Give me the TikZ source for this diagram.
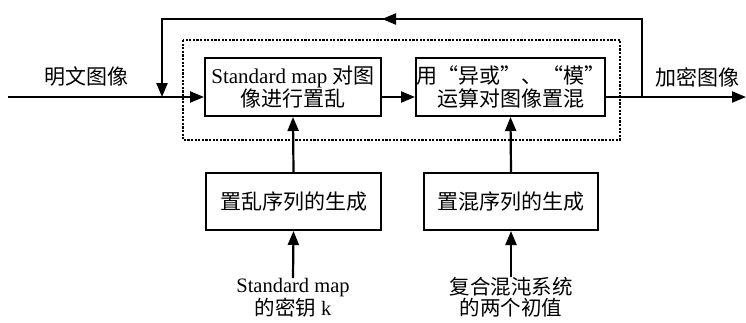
\documentclass[tikz,border=0pt]{standalone}
\usepackage{fontspec}
\setmainfont{Liberation Serif}
\newfontfamily\cjk{Noto Sans CJK SC}
\usetikzlibrary{arrows.meta}
\begin{document}
\begin{tikzpicture}[x=1pt,y=-1pt,
  every node/.style={font=\fontsize{21}{23}\selectfont, inner sep=0pt},
  blk/.style={draw, line width=2pt, align=center, minimum height=58pt},
  lbl/.style={align=center},
  botlbl/.style={align=center, font=\fontsize{20.5}{21}\selectfont, anchor=north},
  conn/.style={line width=2.2pt},
  arr/.style={conn, -{Triangle[length=14pt,width=11pt]}},
  dashbox/.style={draw, line width=1.6pt, dash pattern=on 2.2pt off 1.4pt}
]
\useasboundingbox (0,0) rectangle (746,322);
% dashed enclosure
\draw[dashbox] (183,40) rectangle (620,140);
% blocks
\node[blk, minimum width=176pt] (b1) at (293,87) {Standard map {\cjk 对图}\\{\cjk 像进行置乱}};
\node[blk, minimum width=175pt] (b2) at (510.5,87) {{\cjk 用“异或”、“模”}\\{\cjk 运算对图像置混}};
\node[blk, minimum width=175pt, minimum height=57pt] (b3) at (293.5,201.5) {\cjk 置乱序列的生成};
\node[blk, minimum width=174pt, minimum height=57pt] (b4) at (511,201.5) {\cjk 置混序列的生成};
% labels
\node[lbl] (lin) at (86,77) {\cjk 明文图像};
\node[lbl] (lout) at (697,77) {\cjk 加密图像};
\node[botlbl] (k1) at (293,278) {Standard map\\{\cjk 的密钥} k};
\node[botlbl] (k2) at (511,277) {{\cjk 复合混沌系统}\\{\cjk 的两个初值}};
% coordinates
\coordinate (in) at (8,97);
\coordinate (join) at (162,97);
\coordinate (tap) at (642,97);
\coordinate (out) at (746,97);
\coordinate (tl) at (162,19);
\coordinate (tr) at (642,19);
\coordinate (mid) at (405,19);
\coordinate (midtip) at (382,19);
% connectors
\draw[arr] (in) -- (b1.west |- in);
\draw[arr] (b1.east |- in) -- (b2.west |- in);
\draw[arr] (b2.east |- in) -- (out);
\draw[arr] (tap) -- (tr) -- (tl) -- (join);
\draw[arr] (mid) -- (midtip);
\draw[arr] (b3.north) -- (b1.south);
\draw[arr] (b4.north) -- (b2.south);
\draw[arr] (k1.north) -- (b3.south);
\draw[arr] (k2.north) -- (b4.south);
\end{tikzpicture}
\end{document}
